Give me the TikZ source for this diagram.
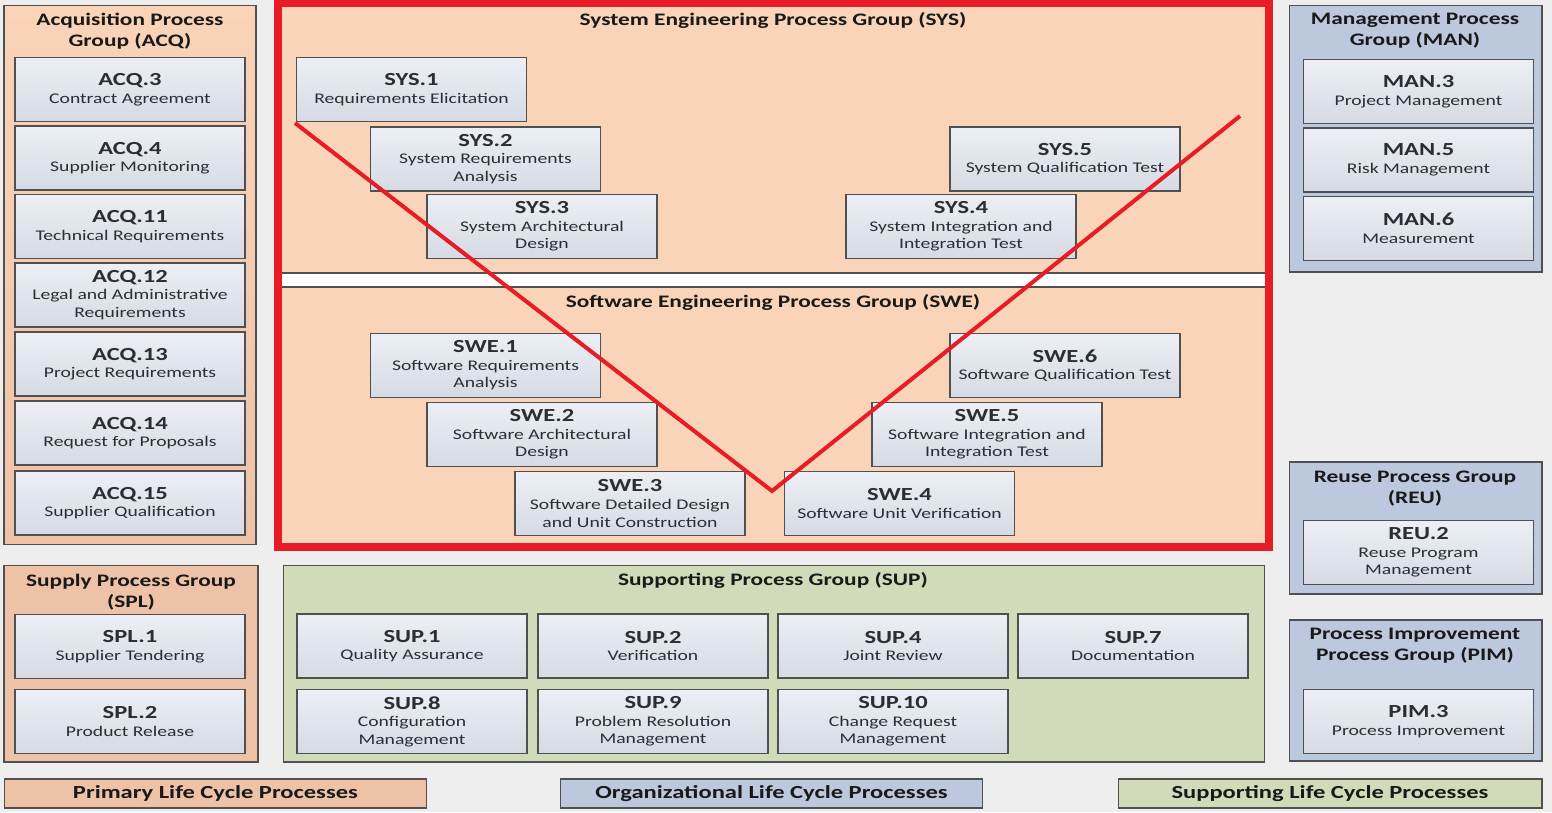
\documentclass[tikz,border=0pt]{standalone}
\usepackage{fontspec}
\setmainfont{Carlito}[FakeStretch=1.33]
\usepackage{tikz}
\definecolor{bgray}{RGB}{238,238,238}
\definecolor{peach}{RGB}{250,212,184}
\definecolor{peachdk}{RGB}{238,194,166}
\definecolor{olive}{RGB}{210,219,185}
\definecolor{slate}{RGB}{188,200,221}
\definecolor{boxtop}{RGB}{236,239,245}
\definecolor{boxbot}{RGB}{214,218,228}
\definecolor{edge}{RGB}{80,80,80}
\definecolor{vred}{RGB}{232,28,38}
\definecolor{ink}{RGB}{25,25,25}
\definecolor{inkl}{RGB}{45,45,52}
\newcommand{\pid}[2]{{\fontsize{10.5}{12}\bfseries\selectfont #1}\\#2}

\begin{document}
\begin{tikzpicture}[x=0.02cm,y=-0.02cm,
  grp/.style={draw=edge,line width=0.6pt,minimum width=#1},
  proc/.style={draw=edge,line width=0.7pt,top color=boxtop,bottom color=boxbot,
    minimum width=4.6cm,minimum height=1.28cm,align=center,inner sep=1pt,
    text=inkl,font=\fontsize{8.4}{10}\selectfont},
  gtitle/.style={align=center,text=ink,font=\fontsize{10}{12}\bfseries\selectfont},
  legend/.style={draw=edge,line width=0.6pt,minimum width=8.46cm,minimum height=0.58cm,
    text=ink,font=\fontsize{10.5}{12}\bfseries\selectfont}]
\useasboundingbox[fill=bgray] (0,0) rectangle (1552,812);
% process groups
\node[grp=5.04cm,minimum height=10.8cm,top color=peach,bottom color=peachdk] (acq) at (130,275) {};
\node[grp=5.06cm,minimum height=5.34cm,fill=slate] (man) at (1415.5,138.5) {};
\node[grp=5.06cm,minimum height=2.64cm,fill=slate] (reu) at (1415.5,528) {};
\node[grp=5.06cm,minimum height=2.82cm,fill=slate] (pim) at (1415.5,690.5) {};
\node[grp=5.08cm,minimum height=3.94cm,fill=peachdk] (spl) at (131,663.5) {};
\node[grp=19.64cm,minimum height=3.94cm,fill=olive] (sup) at (774,663.5) {};
% engineering area
\fill[peach] (278,3) rectangle (1269,547);
\draw[edge,fill=white,line width=0.6pt] (278,273) rectangle (1269,287);
\node[gtitle] (acqt) at (130,31) {Acquisition Process\\Group (ACQ)};
\node[gtitle] (mant) at (1415,31) {Management Process\\Group (MAN)};
\node[gtitle] (reut) at (1415,489) {Reuse Process Group\\(REU)};
\node[gtitle] (pimt) at (1415,646) {Process Improvement\\Process Group (PIM)};
\node[gtitle] (splt) at (131,592) {Supply Process Group\\(SPL)};
\node[gtitle] (supt) at (773,580) {Supporting Process Group (SUP)};
\node[gtitle] (syst) at (773,20) {System Engineering Process Group (SYS)};
\node[gtitle] (swet) at (773,302) {Software Engineering Process Group (SWE)};
% ACQ
\node[proc] (acq3) at (130,89.5) {\pid{ACQ.3}{Contract Agreement}};
\node[proc] (acq4) at (130,158) {\pid{ACQ.4}{Supplier Monitoring}};
\node[proc] (acq11) at (130,226.5) {\pid{ACQ.11}{Technical Requirements}};
\node[proc] (acq12) at (130,295) {\pid{ACQ.12}{Legal and Administrative\\Requirements}};
\node[proc] (acq13) at (130,364) {\pid{ACQ.13}{Project Requirements}};
\node[proc] (acq14) at (130,433) {\pid{ACQ.14}{Request for Proposals}};
\node[proc] (acq15) at (130,503) {\pid{ACQ.15}{Supplier Qualification}};
% SYS
\node[proc] (sys1) at (411.5,89.5) {\pid{SYS.1}{Requirements Elicitation}};
\node[proc] (sys2) at (485.5,159) {\pid{SYS.2}{System Requirements\\Analysis}};
\node[proc] (sys3) at (542,226.5) {\pid{SYS.3}{System Architectural\\Design}};
\node[proc] (sys4) at (961,226.5) {\pid{SYS.4}{System Integration and\\Integration Test}};
\node[proc] (sys5) at (1065,159) {\pid{SYS.5}{System Qualification Test}};
% SWE
\node[proc] (swe1) at (485.5,365.5) {\pid{SWE.1}{Software Requirements\\Analysis}};
\node[proc] (swe2) at (542,434.5) {\pid{SWE.2}{Software Architectural\\Design}};
\node[proc] (swe3) at (630,503.5) {\pid{SWE.3}{Software Detailed Design\\and Unit Construction}};
\node[proc] (swe4) at (899.5,503.5) {\pid{SWE.4}{Software Unit Verification}};
\node[proc] (swe5) at (987,434.5) {\pid{SWE.5}{Software Integration and\\Integration Test}};
\node[proc] (swe6) at (1065,365.5) {\pid{SWE.6}{Software Qualification Test}};
% MAN, REU, PIM
\node[proc] (man3) at (1418.5,91.5) {\pid{MAN.3}{Project Management}};
\node[proc] (man5) at (1418.5,160) {\pid{MAN.5}{Risk Management}};
\node[proc] (man6) at (1418.5,228.5) {\pid{MAN.6}{Measurement}};
\node[proc] (reu2) at (1418.5,552.5) {\pid{REU.2}{Reuse Program\\Management}};
\node[proc] (pim3) at (1418.5,721.5) {\pid{PIM.3}{Process Improvement}};
% SPL
\node[proc] (spl1) at (130,646.5) {\pid{SPL.1}{Supplier Tendering}};
\node[proc] (spl2) at (130,721.5) {\pid{SPL.2}{Product Release}};
% SUP
\node[proc] (sup1) at (412,646) {\pid{SUP.1}{Quality Assurance}};
\node[proc] (sup2) at (653,646) {\pid{SUP.2}{Verification}};
\node[proc] (sup4) at (893,646) {\pid{SUP.4}{Joint Review}};
\node[proc] (sup7) at (1133,646) {\pid{SUP.7}{Documentation}};
\node[proc] (sup8) at (412,721.5) {\pid{SUP.8}{Configuration\\Management}};
\node[proc] (sup9) at (653,721.5) {\pid{SUP.9}{Problem Resolution\\Management}};
\node[proc] (sup10) at (893,721.5) {\pid{SUP.10}{Change Request\\Management}};
% V model and frame
\coordinate (vl) at (295,123);
\coordinate (vb) at (772,491);
\coordinate (vr) at (1240,116);
\draw[vred,line width=0.08cm,line join=miter] (vl) -- (vb) -- (vr);
\draw[vred,line width=0.16cm] (278,3) rectangle (1269,547);
% legend
\node[legend,fill=peachdk] (prim) at (215.5,793.5) {Primary Life Cycle Processes};
\node[legend,fill=slate] (orgl) at (771.5,793.5) {Organizational Life Cycle Processes};
\node[legend,fill=olive,minimum width=8.48cm] (supl) at (1330,793.5) {Supporting Life Cycle Processes};
\end{tikzpicture}
\end{document}
